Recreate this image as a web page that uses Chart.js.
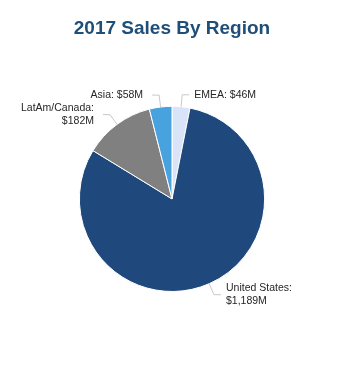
<!DOCTYPE html>
<html>
<head>
<meta charset="utf-8">
<script src="https://cdn.jsdelivr.net/npm/chart.js@4"></script>
<style>
  body { margin: 0; background: #fff; }
  canvas { display: block; }
</style>
</head>
<body>
<canvas id="myChartPie" width="344" height="366"></canvas>
<script>
const regions = ['EMEA', 'United States', 'LatAm/Canada', 'Asia']
const sales = [46, 1189, 182, 58]
const colors = ['#d9e4f8', '#1f497d', '#808080', '#48a2de']

function labelLines(i) {
    let name = regions[i] + ':'
    let value = '$' + sales[i].toLocaleString('en-US') + 'M'
    if (regions[i].length > 6) return [name, value]
    return [name + ' ' + value]
}

// leader lines + labels outside each slice
const outsideLabels = {
    id: 'outsideLabels',
    afterDatasetsDraw(chart) {
        const ctx = chart.ctx
        const arcs = chart.getDatasetMeta(0).data
        ctx.save()
        ctx.font = '10.5px "Liberation Sans", Arial, sans-serif'
        ctx.textBaseline = 'middle'
        arcs.forEach((arc, i) => {
            let p = arc.getProps(['x', 'y', 'startAngle', 'endAngle', 'outerRadius'], true)
            let a = (p.startAngle + p.endAngle) / 2
            let cos = Math.cos(a), sin = Math.sin(a)
            let x1 = p.x + p.outerRadius * cos
            let y1 = p.y + p.outerRadius * sin
            let x2 = p.x + (p.outerRadius + 12) * cos
            let y2 = p.y + (p.outerRadius + 12) * sin
            let dir = cos >= 0 ? 1 : -1
            let x3 = x2 + dir * 7
            ctx.strokeStyle = '#c8c8c8'
            ctx.lineWidth = 1
            ctx.beginPath()
            ctx.moveTo(x1, y1)
            ctx.lineTo(x2, y2)
            ctx.lineTo(x3, y2)
            ctx.stroke()
            let lines = labelLines(i)
            ctx.fillStyle = '#262626'
            ctx.textAlign = dir > 0 ? 'left' : 'right'
            let gap = dir > 0 ? 5 : 9
            let y0 = y2 - (lines.length - 1) * 12.5 / 2
            lines.forEach((t, k) => {
                ctx.fillText(t, x3 + dir * gap, y0 + k * 12.5)
            })
        })
        ctx.restore()
    }
}

new Chart(document.getElementById('myChartPie'), {
    type: 'pie',
    data: {
        labels: regions,
        datasets: [{
            data: sales,
            backgroundColor: colors,
            borderColor: '#ffffff',
            borderWidth: 1,
            hoverOffset: 0
        }]
    },
    options: {
        responsive: false,
        animation: false,
        layout: {
            padding: { top: 0, bottom: 74, left: 0, right: 0 }
        },
        plugins: {
            legend: { display: false },
            tooltip: { enabled: false },
            title: {
                display: true,
                text: '2017 Sales By Region',
                color: '#1f4e79',
                font: { family: '"Liberation Sans", Arial, sans-serif', size: 19, weight: 'bold' },
                padding: { top: 17, bottom: 66 }
            }
        }
    },
    plugins: [outsideLabels]
});
</script>
</body>
</html>
